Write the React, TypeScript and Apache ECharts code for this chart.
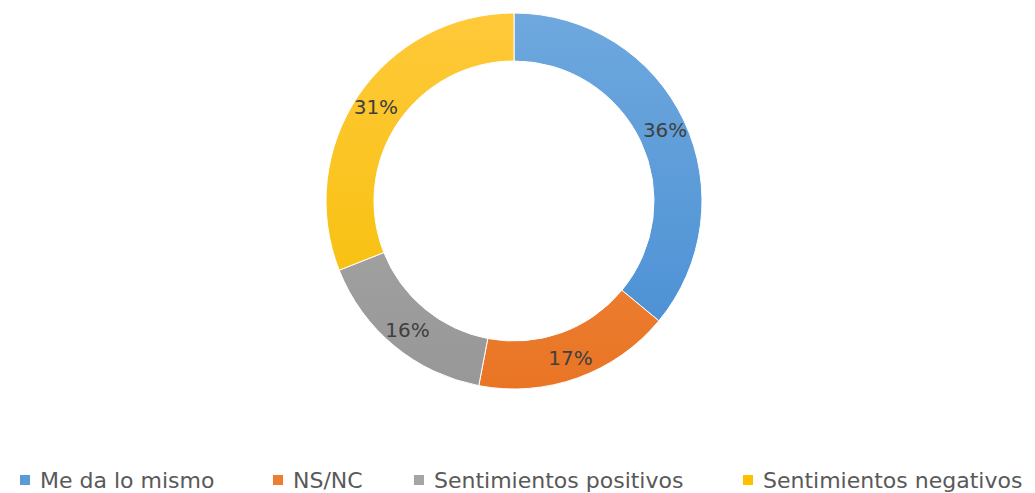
import React, { useEffect, useRef } from "react";
import * as echarts from "echarts";

const categories = ["Me da lo mismo", "NS/NC", "Sentimientos positivos", "Sentimientos negativos"];
const values = [36, 17, 16, 31];
const colors = ["#5B9BD5", "#ED7D31", "#A5A5A5", "#FFC000"];
const topColors = ["#6EA8DE", "#F28E4E", "#AEAEAE", "#FFC93A"];
const bottomColors = ["#478DD3", "#E97524", "#979797", "#F5BE00"];
const legendLefts = [13, 266, 407, 736];

export default function App() {
  const ref = useRef<HTMLDivElement>(null);
  useEffect(() => {
    if (!ref.current) return;
    const chart = echarts.init(ref.current, undefined, { renderer: "svg" });
    chart.setOption({
      animation: false,
      backgroundColor: "#ffffff",
      color: colors,
      legend: categories.map((name, i) => ({
        data: [{ name, itemStyle: { color: colors[i] } }],
        left: legendLefts[i],
        top: 464,
        icon: "rect",
        itemWidth: 12,
        itemHeight: 12,
        itemGap: 0,
        textStyle: {
          fontFamily: "DejaVu Sans",
          fontSize: 22,
          lineHeight: 22,
          color: "#595959",
          padding: [0, 0, 0, 4],
        },
      })),
      series: [
        {
          type: "pie",
          center: [514, 201],
          radius: [140, 188],
          startAngle: 90,
          clockwise: true,
          avoidLabelOverlap: false,
          itemStyle: { borderColor: "#ffffff", borderWidth: 1 },
          label: {
            show: true,
            position: "inside",
            formatter: "{c}%",
            fontFamily: "DejaVu Sans",
            fontSize: 20,
            color: "#404040",
            textBorderWidth: 0,
          },
          labelLine: { show: false },
          emphasis: { disabled: true },
          data: categories.map((name, i) => ({
            name,
            value: values[i],
            itemStyle: {
              color: new echarts.graphic.LinearGradient(
                0, 13, 0, 389,
                [
                  { offset: 0, color: topColors[i] },
                  { offset: 1, color: bottomColors[i] },
                ],
                true
              ),
            },
          })),
        },
      ],
    });
    return () => chart.dispose();
  }, []);
  return (
    <div
      ref={ref}
      style={{ position: "fixed", left: 0, top: 0, width: 1035, height: 493 }}
    />
  );
}
